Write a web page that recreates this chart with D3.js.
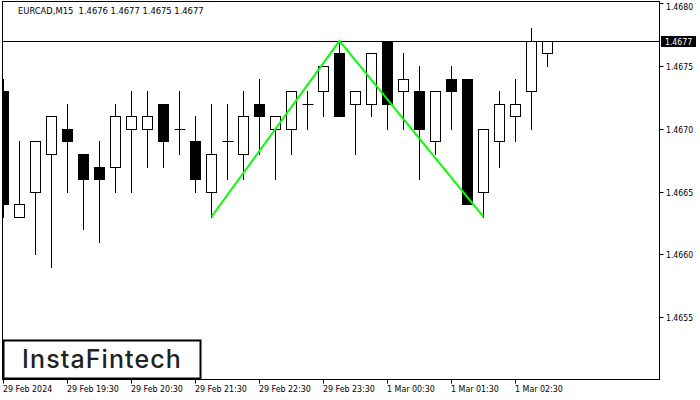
<!DOCTYPE html>
<html><head><meta charset="utf-8">
<script src="https://cdn.jsdelivr.net/npm/d3@7"></script>
<style>
html,body{margin:0;padding:0;background:#fff;}
svg{display:block;}
text{white-space:pre;}
</style></head>
<body>
<svg id="c" width="700" height="400"></svg>
<script>
const symbolTitle = "EURCAD,M15  1.4676 1.4677 1.4675 1.4677";
const opens  = [1.4673,1.4663,1.4665,1.4668,1.4670,1.4668,1.4667,1.4667,1.4670,1.4670,1.4672,1.4670,1.4669,1.4665,1.4669,1.4668,1.4672,1.4670,1.4670,1.4672,1.4673,1.4676,1.4672,1.4672,1.4677,1.4673,1.4673,1.4669,1.4674,1.4674,1.4665,1.4669,1.4671,1.4673,1.4676];
const highs  = [1.4674,1.4669,1.4669,1.4671,1.4672,1.4668,1.4669,1.4672,1.4673,1.4673,1.4672,1.4673,1.4671,1.4672,1.4672,1.4673,1.4674,1.4671,1.4673,1.4673,1.4675,1.4677,1.4673,1.4676,1.4677,1.4676,1.4675,1.4673,1.4675,1.4674,1.4670,1.4673,1.4674,1.4678,1.4677];
const lows   = [1.4663,1.4663,1.4660,1.4659,1.4665,1.4662,1.4661,1.4665,1.4665,1.4667,1.4667,1.4668,1.4665,1.4663,1.4666,1.4666,1.4668,1.4666,1.4668,1.4670,1.4671,1.4671,1.4668,1.4671,1.4670,1.4670,1.4666,1.4668,1.4670,1.4664,1.4663,1.4667,1.4669,1.4670,1.4675];
const closes = [1.4664,1.4664,1.4669,1.4671,1.4669,1.4666,1.4666,1.4671,1.4671,1.4671,1.4669,1.4670,1.4666,1.4668,1.4669,1.4671,1.4671,1.4671,1.4673,1.4672,1.4675,1.4671,1.4673,1.4676,1.4672,1.4674,1.4670,1.4673,1.4673,1.4664,1.4670,1.4672,1.4672,1.4677,1.4677];
const priceTicks = [1.4655,1.4660,1.4665,1.4670,1.4675,1.4680];
const timeTickIndex = [0,4,8,12,16,20,24,28,32];
const timeTickLabels = ["29 Feb 2024","29 Feb 19:30","29 Feb 20:30","29 Feb 21:30","29 Feb 22:30","29 Feb 23:30","1 Mar 00:30","1 Mar 01:30","1 Mar 02:30"];
const patternIndex = [13,21,30];
const patternPrice = [1.4663,1.4677,1.4663];
const currentPrice = 1.4677;

const svg = d3.select("#c");
const L = 2.5, T = 1.5, R = 659.5, B = 379.5;
const y = d3.scaleLinear().domain([1.4655,1.4675]).range([317.3,66]);
const x = d3.scaleLinear().domain([0,34]).range([3.5,547.5]);
const sy = v => Math.round(y(v)) + 0.5;
const font = "'DejaVu Sans Condensed','DejaVu Sans',sans-serif";

svg.append("clipPath").attr("id","clip").append("rect")
  .attr("x",L).attr("y",T).attr("width",R-L).attr("height",B-T);

const plot = svg.append("g").attr("clip-path","url(#clip)");

plot.append("line").attr("x1",L).attr("x2",R)
  .attr("y1",sy(currentPrice)).attr("y2",sy(currentPrice))
  .attr("stroke","#000").attr("stroke-width",1);

const data = opens.map((o,i)=>({i,o,h:highs[i],l:lows[i],c:closes[i]}));
const g = plot.append("g").selectAll("g").data(data).join("g");
g.append("line")
  .attr("x1",d=>x(d.i)).attr("x2",d=>x(d.i))
  .attr("y1",d=>Math.round(y(d.h))).attr("y2",d=>Math.round(y(d.l))+1)
  .attr("stroke","#000").attr("stroke-width",1);
g.filter(d=>d.o!==d.c).append("rect")
  .attr("x",d=>x(d.i)-5).attr("width",10)
  .attr("y",d=>sy(Math.max(d.o,d.c)))
  .attr("height",d=>sy(Math.min(d.o,d.c))-sy(Math.max(d.o,d.c)))
  .attr("fill",d=>d.c>d.o?"#fff":"#000")
  .attr("stroke","#000").attr("stroke-width",1);
g.filter(d=>d.o===d.c).append("line")
  .attr("x1",d=>x(d.i)-5).attr("x2",d=>x(d.i)+6)
  .attr("y1",d=>sy(d.o)).attr("y2",d=>sy(d.o))
  .attr("stroke","#000").attr("stroke-width",1);

const line = d3.line().x(d=>x(d[0])).y(d=>y(d[1]));
plot.append("path")
  .attr("d",line(patternIndex.map((v,k)=>[v,patternPrice[k]])))
  .attr("fill","none").attr("stroke","#00ff00").attr("stroke-width",2);

svg.append("rect").attr("x",L).attr("y",T).attr("width",R-L).attr("height",B-T)
  .attr("fill","none").attr("stroke","#000").attr("stroke-width",1);

const ra = svg.append("g");
priceTicks.forEach(p=>{
  const yy = sy(p);
  ra.append("line").attr("x1",R).attr("x2",R+4).attr("y1",yy).attr("y2",yy).attr("stroke","#000");
  ra.append("text").attr("x",666).attr("y",Math.max(yy,6)+3.5)
    .attr("font-family",font).attr("font-size",8.6).attr("fill","#000").text(p.toFixed(4));
});
ra.append("rect").attr("x",661).attr("y",sy(currentPrice)-5.5).attr("width",35).attr("height",11).attr("fill","#000");
ra.append("text").attr("x",665).attr("y",sy(currentPrice)+3.5)
  .attr("font-family",font).attr("font-size",8.6).attr("fill","#fff").text(currentPrice.toFixed(4));

const ba = svg.append("g");
timeTickIndex.forEach((ti,k)=>{
  const xx = Math.round(x(ti)) + 0.5 - 1;
  ba.append("line").attr("x1",xx).attr("x2",xx).attr("y1",B).attr("y2",B+4).attr("stroke","#000");
  ba.append("text").attr("x",xx-0.5).attr("y",392)
    .attr("font-family",font).attr("font-size",8.8).attr("fill","#000").text(timeTickLabels[k]);
});

svg.append("text").attr("x",18).attr("y",14).attr("font-family",font).attr("font-size",9.3)
  .attr("fill","#000").text(symbolTitle);

svg.append("rect").attr("x",3.5).attr("y",340.5).attr("width",197).attr("height",38)
  .attr("fill","#fff").attr("stroke","#000").attr("stroke-width",2);
svg.append("text").attr("x",102).attr("y",368).attr("text-anchor","middle")
  .attr("font-family","Inter, Roboto, sans-serif").attr("font-weight",500).attr("font-size",25)
  .attr("letter-spacing",1.1).attr("fill","#222").text("InstaFintech");
</script>
</body></html>
